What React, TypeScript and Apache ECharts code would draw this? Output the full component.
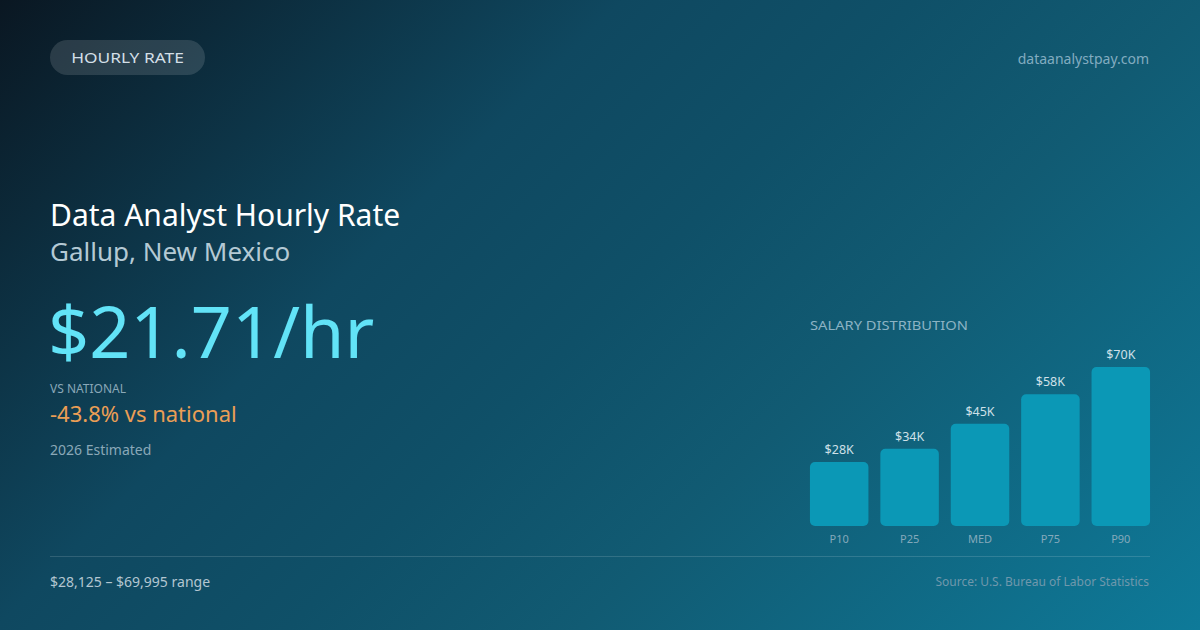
import React, { useEffect, useRef } from 'react';
import * as echarts from 'echarts';

const percentiles = ['P10', 'P25', 'MED', 'P75', 'P90'];
const salaries = [28125, 34000, 45000, 58000, 69995];

const FONT = '"Noto Sans", "Open Sans", sans-serif';

const formatK = (v: number) => `$${Math.round(v / 1000)}K`;

const App: React.FC = () => {
  const chartRef = useRef<HTMLDivElement>(null);

  useEffect(() => {
    if (!chartRef.current) return;
    const chart = echarts.init(chartRef.current, null, { renderer: 'svg' });

    const option = {
      animation: false,
      // 135deg gradient across the whole card (global coords)
      backgroundColor: new echarts.graphic.LinearGradient(
        0,
        0,
        915,
        915,
        [
          { offset: 0, color: '#0a1722' },
          { offset: 0.34, color: '#0f4860' },
          { offset: 0.5, color: '#0f5068' },
          { offset: 0.66, color: '#115b73' },
          { offset: 1, color: '#0e7a99' },
        ],
        true
      ),
      textStyle: { fontFamily: FONT },
      grid: {
        left: 804,
        width: 352,
        top: 367,
        bottom: 104,
        containLabel: false,
      },
      xAxis: {
        type: 'category',
        data: percentiles,
        axisLine: { show: false },
        axisTick: { show: false },
        axisLabel: {
          color: '#84a9bb',
          fontSize: 11,
          fontFamily: FONT,
          margin: 7,
        },
      },
      yAxis: {
        type: 'value',
        min: 0,
        max: 'dataMax',
        show: false,
        splitLine: { show: false },
      },
      series: [
        {
          type: 'bar',
          data: salaries,
          barWidth: 58.5,
          itemStyle: {
            color: '#0b98b6',
            borderRadius: 5,
          },
          label: {
            show: true,
            position: 'top',
            distance: 6,
            color: '#cfe0e8',
            fontSize: 12.5,
            fontFamily: FONT,
            formatter: (p: any) => formatK(p.value),
          },
        },
      ],
      graphic: [
        {
          type: 'rect',
          shape: { x: 50, y: 40, width: 155, height: 35, r: 17.5 },
          style: { fill: 'rgba(255,255,255,0.13)' },
        },
        {
          // widened to stand in for the letter spacing of the reference
          type: 'text',
          x: 127.5,
          y: 58,
          scaleX: 1.24,
          style: {
            text: 'HOURLY RATE',
            fill: '#d3dfe7',
            font: `14px ${FONT}`,
            align: 'center',
            verticalAlign: 'middle',
          },
        },
        {
          type: 'text',
          x: 1149,
          y: 58,
          style: {
            text: 'dataanalystpay.com',
            fill: '#82acc0',
            font: `14px ${FONT}`,
            align: 'right',
            verticalAlign: 'middle',
          },
        },
        {
          type: 'text',
          x: 50,
          y: 214,
          style: {
            text: 'Data Analyst Hourly Rate',
            fill: '#ffffff',
            font: `30px ${FONT}`,
            verticalAlign: 'middle',
          },
        },
        {
          type: 'text',
          x: 50,
          y: 251,
          style: {
            text: 'Gallup, New Mexico',
            fill: '#b4c9d4',
            font: `26px ${FONT}`,
            verticalAlign: 'middle',
          },
        },
        {
          type: 'text',
          x: 48,
          y: 330,
          style: {
            text: '$21.71/hr',
            fill: '#62e3f7',
            font: `72px ${FONT}`,
            verticalAlign: 'middle',
          },
        },
        {
          type: 'text',
          x: 50,
          y: 388,
          style: {
            text: 'VS NATIONAL',
            fill: '#8aa8b8',
            font: `12px ${FONT}`,
            verticalAlign: 'middle',
          },
        },
        {
          type: 'text',
          x: 50,
          y: 413,
          style: {
            text: '-43.8% vs national',
            fill: '#eb9e55',
            font: `22px ${FONT}`,
            verticalAlign: 'middle',
          },
        },
        {
          type: 'text',
          x: 50,
          y: 449,
          style: {
            text: '2026 Estimated',
            fill: '#8aa8b8',
            font: `14px ${FONT}`,
            verticalAlign: 'middle',
          },
        },
        {
          type: 'text',
          x: 810,
          y: 325,
          scaleX: 1.13,
          style: {
            text: 'SALARY DISTRIBUTION',
            fill: '#8cb3c4',
            font: `13px ${FONT}`,
            verticalAlign: 'middle',
          },
        },
        {
          type: 'line',
          shape: { x1: 50, y1: 556.5, x2: 1150, y2: 556.5 },
          style: { stroke: 'rgba(255,255,255,0.14)', lineWidth: 1 },
        },
        {
          type: 'text',
          x: 50,
          y: 581,
          style: {
            text: '$28,125 – $69,995 range',
            fill: '#b3c6d1',
            font: `14px ${FONT}`,
            verticalAlign: 'middle',
          },
        },
        {
          type: 'text',
          x: 1149,
          y: 581,
          style: {
            text: 'Source: U.S. Bureau of Labor Statistics',
            fill: '#6f98ac',
            font: `12px ${FONT}`,
            align: 'right',
            verticalAlign: 'middle',
          },
        },
      ],
    };

    chart.setOption(option as any);

    return () => {
      chart.dispose();
    };
  }, []);

  return (
    <div
      ref={chartRef}
      style={{
        position: 'fixed',
        left: 0,
        top: 0,
        width: '1200px',
        height: '630px',
      }}
    />
  );
};

export default App;
